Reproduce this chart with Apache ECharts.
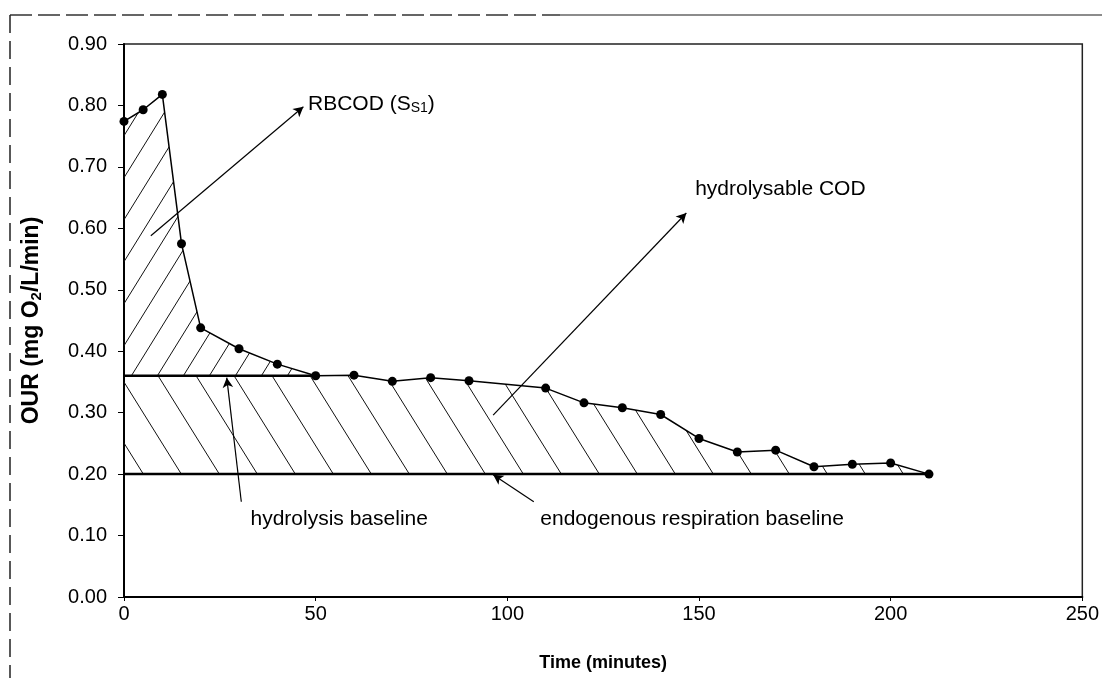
<!DOCTYPE html>
<html>
<head>
<meta charset="utf-8">
<script src="https://cdn.jsdelivr.net/npm/echarts@6/dist/echarts.min.js"></script>
<style>
  html, body { margin: 0; padding: 0; background: #fff; }
  #chart { width: 1102px; height: 678px; }
</style>
</head>
<body>
<div id="chart"></div>
<script>
// Oxygen uptake rate measured over time
const timeMin = [0, 5, 10, 15, 20, 30, 40, 50, 60, 70, 80, 90, 110, 120, 130, 140, 150, 160, 170, 180, 190, 200, 210];
const ourValues = [0.774, 0.793, 0.818, 0.575, 0.438, 0.404, 0.379, 0.360, 0.361, 0.351, 0.357, 0.352, 0.340, 0.316, 0.308, 0.297, 0.258, 0.236, 0.239, 0.212, 0.216, 0.218, 0.200];

// Baselines
const hydrolysisBaseline = 0.36;   // drawn from t = 0 until it meets the curve
const hydrolysisBaselineEnd = 50;
const endogenousBaseline = 0.20;   // drawn over the whole test

// Axis ticks
const xTicks = [0, 50, 100, 150, 200, 250];
const yTicks = [0.0, 0.1, 0.2, 0.3, 0.4, 0.5, 0.6, 0.7, 0.8, 0.9];

// Annotations: arrows (tail -> head) and labels, in data units
const annotations = [
  { text: 'RBCOD', sub: 'S1', tail: [7.0, 0.588], head: [46.8, 0.798], label: [48.0, 0.802] },
  { text: 'hydrolysable COD', tail: [96.3, 0.296], head: [146.7, 0.625], label: [149.0, 0.664] },
  { text: 'hydrolysis baseline', tail: [30.6, 0.155], head: [26.8, 0.357], label: [33.0, 0.127] },
  { text: 'endogenous respiration baseline', tail: [106.9, 0.155], head: [96.3, 0.199], label: [108.6, 0.127] }
];

const curve = timeMin.map((t, i) => [t, ourValues[i]]);

// Readily biodegradable part: curve above the hydrolysis baseline
const rbcodTop = curve.filter(p => p[0] <= hydrolysisBaselineEnd);
// Hydrolysable part: below the hydrolysis baseline (or the curve past its end)
const hydroTop = [[0, hydrolysisBaseline], [hydrolysisBaselineEnd, hydrolysisBaseline]]
  .concat(curve.filter(p => p[0] > hydrolysisBaselineEnd));

function hatch(dx, dy, forward) {
  const c = document.createElement('canvas');
  c.width = dx; c.height = dy;
  const g = c.getContext('2d');
  g.strokeStyle = '#111';
  g.lineWidth = 1;
  for (let k = -1; k <= 1; k++) {
    g.beginPath();
    if (forward) { g.moveTo(k * dx, dy); g.lineTo(k * dx + dx, 0); }
    else { g.moveTo(k * dx, 0); g.lineTo(k * dx + dx, dy); }
    g.stroke();
  }
  return { image: c, repeat: 'repeat' };
}

const FONT = '"Liberation Sans", Arial, sans-serif';
const chart = echarts.init(document.getElementById('chart'), null, { renderer: 'canvas' });

const option = {
  backgroundColor: '#fff',
  animation: false,
  grid: { left: 124, right: 16, top: 44, bottom: 81, show: true, borderColor: '#222', borderWidth: 1.5 },
  xAxis: {
    type: 'value', min: xTicks[0], max: xTicks[xTicks.length - 1], interval: 50,
    name: 'Time (minutes)', nameLocation: 'middle', nameGap: 57,
    nameTextStyle: { fontFamily: FONT, fontSize: 18, fontWeight: 'bold', color: '#000' },
    axisLine: { onZero: false, lineStyle: { color: '#000', width: 2 } },
    axisTick: { show: true, length: 4, lineStyle: { color: '#000' } },
    axisLabel: { fontFamily: FONT, fontSize: 20, color: '#000', margin: 7 },
    splitLine: { show: false }
  },
  yAxis: {
    type: 'value', min: yTicks[0], max: yTicks[yTicks.length - 1], interval: 0.1,
    name: 'OUR (mg O{sub|2}/L/min)', nameLocation: 'middle', nameGap: 80,
    nameTextStyle: {
      fontFamily: FONT, fontSize: 23, fontWeight: 'bold', color: '#000',
      rich: { sub: { fontFamily: FONT, fontSize: 15, fontWeight: 'bold', verticalAlign: 'bottom', padding: [10, 0, 0, 0] } }
    },
    axisLine: { onZero: false, lineStyle: { color: '#000', width: 2 } },
    axisTick: { show: true, length: 6, lineStyle: { color: '#000' } },
    axisLabel: { fontFamily: FONT, fontSize: 20, color: '#000', margin: 17, formatter: v => v.toFixed(2) },
    splitLine: { show: false }
  },
  series: [
    {
      name: 'RBCOD', type: 'line', data: rbcodTop, symbol: 'none', silent: true,
      lineStyle: { width: 0 },
      areaStyle: { origin: hydrolysisBaseline, color: hatch(26, 42, true), opacity: 1 },
      z: 1
    },
    {
      name: 'hydrolysable COD', type: 'line', data: hydroTop, symbol: 'none', silent: true,
      lineStyle: { width: 0 },
      areaStyle: { origin: endogenousBaseline, color: hatch(38, 61, false), opacity: 1 },
      z: 1
    },
    {
      name: 'hydrolysis baseline', type: 'line', symbol: 'none', silent: true,
      data: [[0, hydrolysisBaseline], [hydrolysisBaselineEnd, hydrolysisBaseline]],
      lineStyle: { color: '#000', width: 2.5 }, z: 2
    },
    {
      name: 'endogenous baseline', type: 'line', symbol: 'none', silent: true,
      data: [[0, endogenousBaseline], [timeMin[timeMin.length - 1], endogenousBaseline]],
      lineStyle: { color: '#000', width: 2.5 }, z: 2
    },
    {
      name: 'OUR', type: 'line', data: curve, symbol: 'circle', symbolSize: 9,
      itemStyle: { color: '#000' }, lineStyle: { color: '#000', width: 1.5 }, z: 3,
      markLine: {
        silent: true, symbol: ['none', 'arrow'], symbolSize: [8, 10],
        lineStyle: { color: '#000', width: 1.2, type: 'solid' },
        label: { show: false },
        data: annotations.map(a => [{ coord: a.tail }, { coord: a.head }])
      }
    }
  ]
};
chart.setOption(option);

// Annotation labels and outer page frame
const graphics = annotations.map(a => {
  const p = chart.convertToPixel({ gridIndex: 0 }, a.label);
  const txt = a.sub ? a.text + ' (S{sub|' + a.sub + '})' : a.text;
  return {
    type: 'text', x: p[0], y: p[1], silent: true,
    style: {
      text: txt, fill: '#000', font: '21px ' + FONT, verticalAlign: 'middle', align: 'left',
      rich: { sub: { fontSize: 14, fontFamily: FONT, padding: [7, 0, 0, 0] } }
    }
  };
});
graphics.push(
  { type: 'line', silent: true, shape: { x1: 10, y1: 15, x2: 560, y2: 15 }, style: { stroke: '#333', lineWidth: 1.5, lineDash: [22, 6] } },
  { type: 'line', silent: true, shape: { x1: 560, y1: 15, x2: 1102, y2: 15 }, style: { stroke: '#666', lineWidth: 1.5 } },
  { type: 'line', silent: true, shape: { x1: 10, y1: 15, x2: 10, y2: 678 }, style: { stroke: '#222', lineWidth: 1.5, lineDash: [18, 8] } }
);
chart.setOption({ graphic: graphics });
</script>
</body>
</html>
